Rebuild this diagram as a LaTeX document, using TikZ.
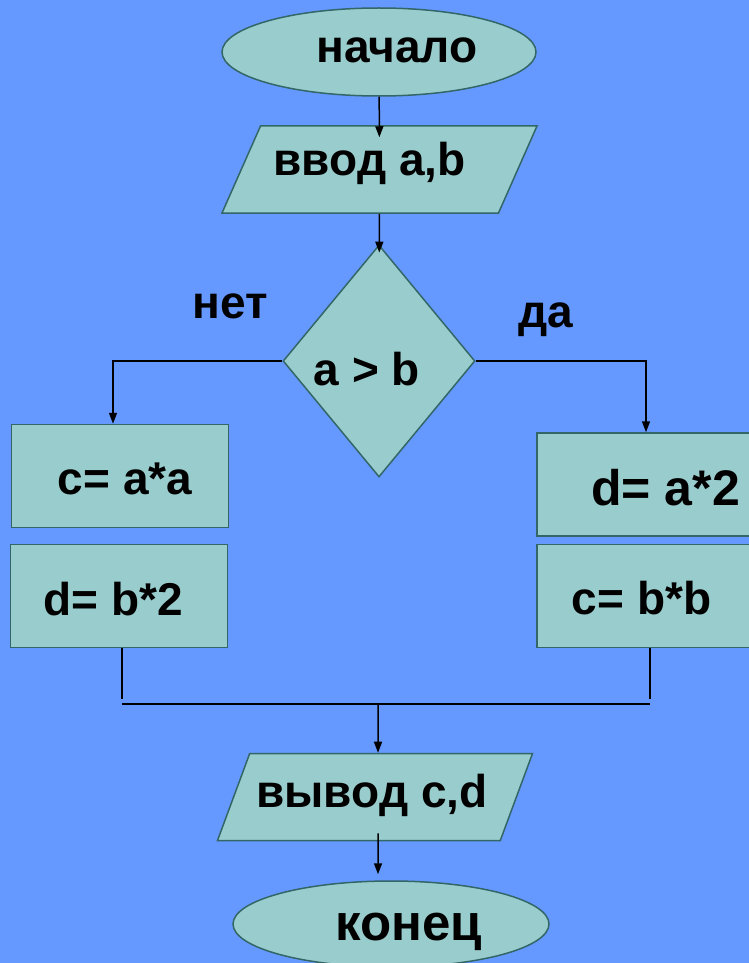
\documentclass[tikz,border=0pt]{standalone}
\usepackage{fontspec}
\setmainfont{Liberation Sans}
\usetikzlibrary{shapes.geometric, arrows.meta}

\begin{document}
\begin{tikzpicture}[x=1pt, y=-1pt,
    block/.style={draw=edgeteal, fill=shapeteal, line width=1.5pt, inner sep=0pt,
        font=\fontsize{46}{50}\selectfont\bfseries},
    terminal/.style={block, ellipse, minimum width=314pt, minimum height=88pt},
    io/.style={block, trapezium, trapezium left angle=55, trapezium right angle=125,
        trapezium stretches body, minimum width=315pt, minimum height=87pt},
    decision/.style={block, diamond, minimum width=192pt, minimum height=232pt},
    process/.style={block, rectangle, minimum width=217pt, minimum height=103pt},
    textbox/.style 2 args={text height=#1, text depth=#2},
    answer/.style={font=\fontsize{46}{50}\selectfont\bfseries, anchor=base},
    flow/.style={line width=1.5pt},
    arrow/.style={flow, -{Triangle[length=11pt, width=8pt]}}]

% Define colors - matching the reference image
\definecolor{bgblue}{RGB}{102,153,255}
\definecolor{shapeteal}{RGB}{153,204,204}
\definecolor{edgeteal}{RGB}{51,102,102}

% Background
\useasboundingbox (0,0) rectangle (749,963);
\fill[bgblue] (0,0) rectangle (749,963);

% Start and input
\node[terminal, textbox={33pt}{11pt}] (start) at (379,52) {\hspace*{36pt}начало};
\node[io, textbox={33pt}{22pt}] (input) at (379.5,169.5) {ввод a,b\hspace*{20pt}};

% Condition
\node[decision, textbox={48pt}{0pt}] (cond) at (379,361) {a > b\hspace*{24pt}};
\node[answer] (no) at (230,318) {нет};
\node[answer] (yes) at (546,327) {да};

% Left branch (нет)
\node[process, textbox={36pt}{0pt}] (sq) at (120,476) {\hspace*{10pt}c= a*a};
\node[process, textbox={38pt}{0pt}] (dbl) at (119,596) {d= b*2\hspace*{12pt}};

% Right branch (да)
\node[process, minimum width=215pt, textbox={41pt}{0pt},
    font=\fontsize{50}{54}\selectfont\bfseries] (dbla) at (644.5,484.5) {\hspace*{42pt}d= a*2};
\node[process, minimum width=215pt, textbox={36pt}{0pt}] (sqb) at (644.5,596) {c= b*b\hspace*{6pt}};

% Output and end
\node[io, textbox={33pt}{13pt}] (output) at (375,797) {вывод c,d\hspace*{6pt}};
\node[terminal, minimum width=316pt, minimum height=86pt, textbox={34pt}{2pt},
    font=\fontsize{51}{55}\selectfont\bfseries] (stop) at (391,924) {\hspace*{36pt}конец};

% Connectors
\draw[arrow, shorten >=-12pt] (start) -- (input);
\draw[arrow, shorten >=-8pt] (input) -- (cond);
\draw[arrow] (cond.west) -| ([xshift=-7pt]sq.north);
\draw[arrow] (cond.east) -| ([xshift=1.5pt]dbla.north);

% Join of the two branches
\coordinate (joinl) at (122,704);
\coordinate (joinr) at (650,704);
\coordinate (joinm) at (378,704);
\draw[flow] ([xshift=3pt]dbl.south) -- ([yshift=5pt]joinl);
\draw[flow] ([xshift=5.5pt]sqb.south) -- ([yshift=5pt]joinr);
\draw[line width=2.5pt] (joinl) -- (joinr);
\draw[arrow] (joinm) -- ([xshift=3pt]output.north);
\draw[arrow, shorten <=-8pt, shorten >=6pt] ([xshift=3pt]output.south) -- ([xshift=-13pt]stop.north);

\end{tikzpicture}
\end{document}
